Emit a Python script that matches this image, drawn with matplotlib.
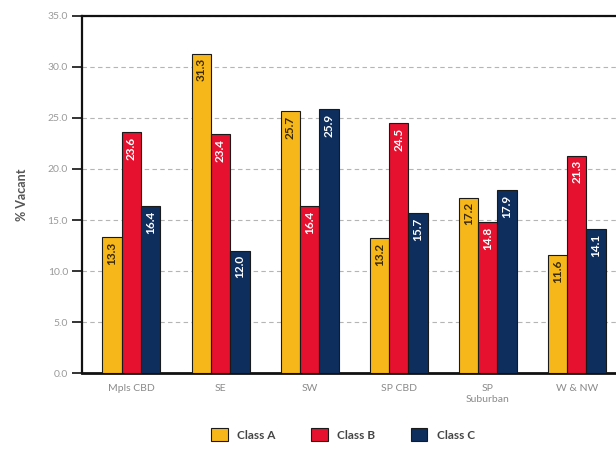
import numpy as np
import matplotlib.pyplot as plt
from matplotlib.patches import Patch

plt.rcParams['font.family'] = ['Lato', 'DejaVu Sans']

regions = ["Mpls CBD", "SE", "SW", "SP CBD", "SP\nSuburban", "W & NW"]
class_a = [13.3, 31.3, 25.7, 13.2, 17.2, 11.6]
class_b = [23.6, 23.4, 16.4, 24.5, 14.8, 21.3]
class_c = [16.4, 12.0, 25.9, 15.7, 17.9, 14.1]
series_names = ["Class A", "Class B", "Class C"]
y_ticks = [0, 5, 10, 15, 20, 25, 30, 35]

colors = ["#F6B71A", "#E5112E", "#0E2E5E"]
label_colors = ["#3A2A05", "white", "white"]

fig = plt.figure(figsize=(6.16, 4.55), dpi=100)
ax = fig.add_axes([0.133, 0.180, 0.867, 0.785])

x = np.arange(len(regions))
w = 0.217
for i, (vals, col, lc) in enumerate(zip([class_a, class_b, class_c], colors, label_colors)):
    xs = x + (i - 1) * w
    ax.bar(xs, vals, width=w, color=col, edgecolor="#1a1a1a", linewidth=0.8, zorder=3)
    for xi, v in zip(xs, vals):
        ax.text(xi, v - 0.45, f"{v:.1f}", rotation=90, ha="center", va="top",
                color=lc, fontsize=8.5, fontweight="bold", zorder=4)

ax.set_xlim(-0.556, 5.44)
ax.set_ylim(0, 35)
ax.set_yticks(y_ticks)
ax.set_yticklabels([f"{t:.1f}" for t in y_ticks])
ax.set_xticks(x)
ax.set_xticklabels(regions)

ax.yaxis.grid(True, color="#b5b5b5", linestyle=(0, (4, 3)), linewidth=0.8, zorder=0)
ax.set_axisbelow(True)

for s in ["left", "bottom", "top"]:
    ax.spines[s].set_color("#111111")
ax.spines["left"].set_linewidth(1.6)
ax.spines["bottom"].set_linewidth(2.0)
ax.spines["top"].set_linewidth(1.6)
ax.spines["right"].set_visible(False)

ax.tick_params(axis="y", direction="out", length=7, width=1.2, color="#111111",
               labelcolor="#9a9a9a", labelsize=7.5, pad=3)
ax.tick_params(axis="x", length=0, labelcolor="#8a8a8a", labelsize=7.5, pad=8)

ax.set_ylabel("% Vacant", fontsize=9, fontweight="bold", color="#555555", labelpad=14)

handles = [Patch(facecolor=c, edgecolor="#1a1a1a", linewidth=0.8) for c in colors]
fig.legend(handles, series_names, loc="center", bbox_to_anchor=(0.557, 0.045), ncol=3,
           frameon=False, fontsize=8.5, handlelength=1.4, handleheight=1.2,
           columnspacing=3.0, handletextpad=0.8,
           prop={"weight": "bold", "size": 8.5})
for t in fig.legends[0].get_texts():
    t.set_color("#444444")

fig.savefig("out.png", dpi=100)
